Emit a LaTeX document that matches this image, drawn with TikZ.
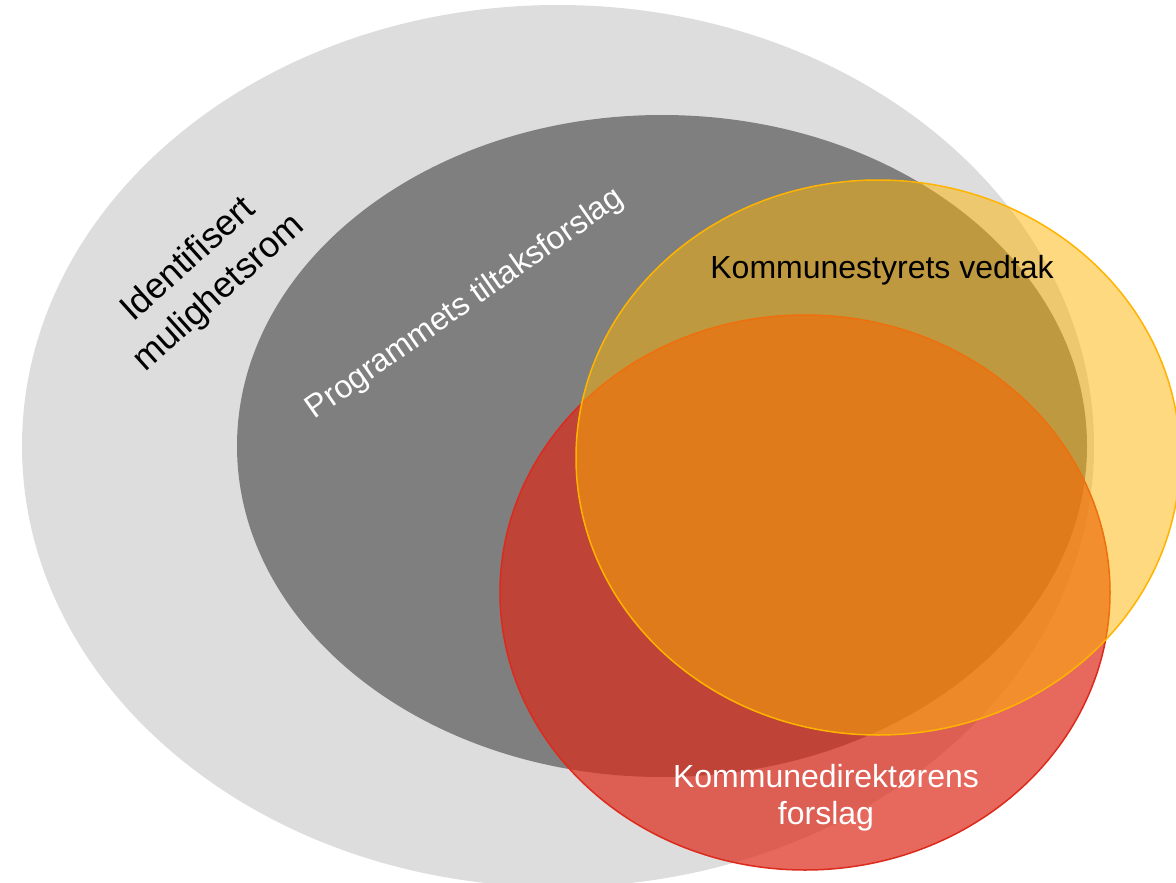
\documentclass[tikz,border=0pt]{standalone}
\usepackage{fontspec}
\setmainfont{Liberation Sans}
\definecolor{lgray}{HTML}{DDDDDD}
\definecolor{dgray}{HTML}{7F7F7F}
\definecolor{yfill}{HTML}{FFB400}
\definecolor{yline}{HTML}{FFB400}
\definecolor{rfill}{HTML}{DD2A1A}
\definecolor{rline}{HTML}{DC2A1C}
\begin{document}
\begin{tikzpicture}[x=1pt,y=-1pt,
  lbl/.style={inner sep=0pt, font=\fontsize{32}{37}\selectfont},
  redset/.style={fill=rfill, fill opacity=0.7, draw=rline, draw opacity=1, line width=1.5pt},
  yellowset/.style={fill=yfill, fill opacity=0.5, draw=yline, draw opacity=1, line width=1.5pt}]
\clip (0,0) rectangle (1176,883);
\fill[white] (0,0) rectangle (1176,883);
\fill[lgray] (558,446) ellipse [x radius=536pt, y radius=441pt];
\fill[dgray] (662,446) ellipse [x radius=425pt, y radius=331pt];
\path[redset] (805,592.5) ellipse [x radius=305pt, y radius=277.5pt];
\path[yellowset] (878,457.5) ellipse [x radius=302pt, y radius=277.5pt];
\node[lbl, font=\fontsize{36}{45}\selectfont, align=center, rotate=42] (ident) at (204,277) {Identifisert\\mulighetsrom};
\node[lbl, text=white, rotate=35, anchor=base] (prog) at (470,311) {Programmets tiltaksforslag};
\node[lbl, anchor=base] (vedtak) at (882,278) {Kommunestyrets vedtak};
\node[lbl, text=white, align=center] (forslag) at (826,798) {Kommunedirektørens\\forslag};
\end{tikzpicture}
\end{document}
